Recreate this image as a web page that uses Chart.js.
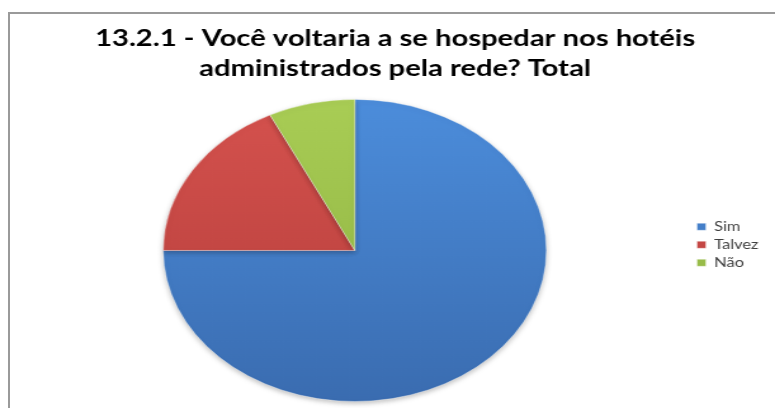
<!DOCTYPE html>
<html>
<head>
<meta charset="utf-8">
<script src="https://cdn.jsdelivr.net/npm/chart.js@4.4.0/dist/chart.umd.min.js"></script>
<style>
	html, body { margin: 0; padding: 0; background: #fff; overflow: hidden; }
	#wrap { position: relative; width: 775px; height: 408px; overflow: hidden; }
	#frame { position: absolute; left: 8px; top: 12px; width: 800px; height: 420px;
		border-left: 2px solid #9a9a9a; border-top: 2px solid #9a9a9a; }
	#myPie { position: absolute; left: 0; top: 0; }
</style>
</head>
<body>
<div id="wrap">
	<div id="frame"></div>
	<!-- drawn narrow, then stretched sideways like the original picture -->
	<canvas id="myPie" width="611" height="408" style="width:775px;height:408px"></canvas>
</div>
<script>
var answers = ['Sim', 'Talvez', 'Não'];
var share = [75, 17.7, 7.3];
var titleLines = ['13.2.1 - Você voltaria a se hospedar nos hotéis', 'administrados pela rede? Total'];

var topColor = ['#4c8ddb', '#d5524e', '#a9cd55'];
var bottomColor = ['#3a6cb0', '#b23c39', '#8aae3f'];

function sliceFill(c){
	var i = c.dataIndex;
	var area = c.chart.chartArea;
	if(!area){
		return topColor[i];
	}
	var g = c.chart.ctx.createLinearGradient(0, area.top, 0, area.bottom);
	g.addColorStop(0, topColor[i]);
	g.addColorStop(1, bottomColor[i]);
	return g;
}

var shadowPlugin = {
	id: 'pieShadow',
	beforeDatasetsDraw: function(chart){
		var ctx = chart.ctx;
		ctx.save();
		ctx.shadowColor = 'rgba(0,0,0,0.25)';
		ctx.shadowBlur = 5;
		ctx.shadowOffsetY = 2;
	},
	afterDatasetsDraw: function(chart){
		chart.ctx.restore();
	}
};

var ctx = document.getElementById('myPie');

var pieChart = new Chart(ctx, {
	type: 'pie',
	data: {
		labels: answers,
		datasets: [
			{
				data: share,
				backgroundColor: sliceFill,
				borderColor: 'rgba(255,255,255,0.35)',
				borderWidth: 1
			}
		]
	},
	options: {
		responsive: false,
		animation: false,
		layout: {
			padding: { left: 15, right: 3, top: 11, bottom: 6 }
		},
		plugins: {
			title: {
				display: true,
				text: titleLines,
				color: '#000',
				font: { family: 'Lato', size: 23, weight: 'bold', lineHeight: 1.28 },
				padding: { top: 13, bottom: 16 }
			},
			legend: {
				position: 'right',
				fullSize: false,
				align: 'start',
				// empty legend title only used as a spacer above the items
				title: {
					display: true,
					text: ' ',
					font: { size: 12 },
					padding: { top: 102, bottom: 0 }
				},
				labels: {
					boxWidth: 7,
					boxHeight: 7,
					padding: 5,
					color: '#404040',
					font: { family: 'Lato', size: 13 }
				}
			},
			tooltip: { enabled: false }
		}
	},
	plugins: [shadowPlugin]
});
</script>
</body>
</html>
